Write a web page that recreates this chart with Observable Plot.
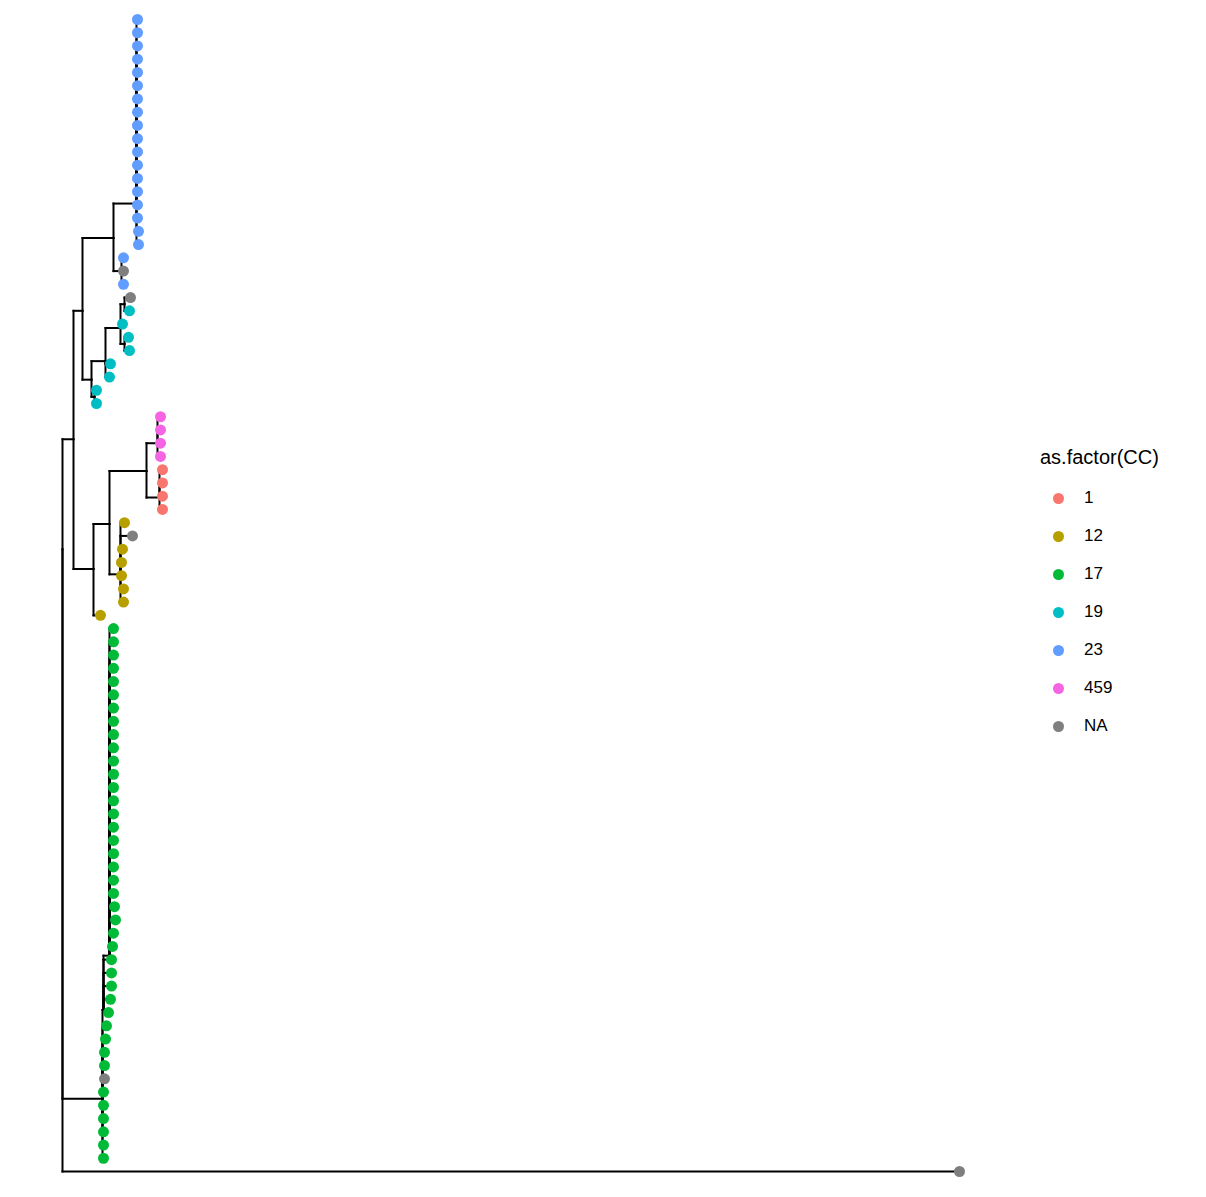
<!DOCTYPE html>
<html>
<head>
<meta charset="utf-8">
<script src="https://cdn.jsdelivr.net/npm/d3@7"></script>
<script src="https://cdn.jsdelivr.net/npm/@observablehq/plot@0.6"></script>
<style>
  body { margin: 0; background: #fff; font-family: "Liberation Sans", Arial, sans-serif; }
  #wrap { position: relative; width: 1206px; height: 1197px; }
  #legend { position: absolute; left: 1040px; top: 446px; color: #000; }
  #legend .title { font-size: 20px; margin-bottom: 10px; }
  #legend .item { display: flex; align-items: center; height: 38px; font-size: 17px; }
  #legend .sw { width: 11px; height: 11px; border-radius: 50%; margin: 0 20px 0 13px; }
</style>
</head>
<body>
<div id="wrap"><div id="tree"></div><div id="legend"></div></div>
<script>
// internal nodes: id, parent, depth, row (y in tip rows)
const nodeId     = ["root","B","C","E","G","H","F","I","J","K","L","M","D","N","O","P","Q","R","S","T","U"];
const nodeParent = [null,"root","B","C","E","E","C","F","F","I","K","K","B","D","N","N","O","O","root","S","T"];
const nodeDepth  = [0,11,20,51,74,59,29,43,32,58,62,62,31,47,84,58,95,97,40,41,47];
const nodeRow    = [40,31.7,22.0,16.5,13.9,19.0,27.2,25.8,28.5,23.3,21.5,24.5,41.5,38.1,34.1,41.9,32.0,36.1,81.5,74.8,70.7];

// tips, top to bottom
const tipCC = [
  ...Array(18).fill("23"), "23","NA","23",
  "NA","19","19","19","19","19","19","19","19",
  "459","459","459","459","1","1","1","1",
  "12","NA","12","12","12","12","12","12",
  ...Array(34).fill("17"), "NA", ...Array(6).fill("17"),
  "NA"
];
const tipDepth = [
  75,75,75,75,75,75,75,75,75,75,75,75,75,75,75,75,76,76,
  61,61,61,68,67,60,66,67,48,47,34,34,
  98,98,98,98,100,100,100,100,
  62,70,60,59,59,61,61,38,
  51,51,51,51,51,51,51,51,51,51,51,51,51,51,51,51,51,51,51,51,51,52,53,51,50,
  49,49,49,48,46,44,43,42,42,42,41,41,41,41,41,41,
  897
];
const tipParent = [
  ...Array(18).fill("G"), "H","H","H","L","L","K","M","M","I","I","J","J",
  "Q","Q","Q","Q","R","R","R","R",
  "P","P","P","P","P","P","P","D",
  ...Array(25).fill("U"), ...Array(5).fill("T"), ...Array(11).fill("S"),
  "root"
];

const ccLevels = ["1","12","17","19","23","459","NA"];
const ccColors = ["#F8766D","#B79F00","#00BA38","#00BFC4","#619CFF","#F564E3","#7F7F7F"];

const nodes = new Map(nodeId.map((id, i) => [id, {id, parent: nodeParent[i], x: nodeDepth[i], y: nodeRow[i]}]));
const tips = tipCC.map((cc, i) => ({cc, x: tipDepth[i], y: i, parent: tipParent[i]}));

const edges = [];
for (const n of [...nodes.values(), ...tips]) {
  if (!n.parent) continue;
  const p = nodes.get(n.parent);
  edges.push({x1: p.x, y1: p.y, x2: p.x, y2: n.y}); // vertical
  edges.push({x1: p.x, y1: n.y, x2: n.x, y2: n.y}); // horizontal
}

const chart = Plot.plot({
  width: 1206,
  height: 1197,
  margin: 0,
  x: {domain: [0, 897], range: [62, 959], axis: null},
  y: {domain: [0, 87], range: [19, 1171], axis: null},
  color: {domain: ccLevels, range: ccColors},
  marks: [
    Plot.link(edges, {x1: "x1", y1: "y1", x2: "x2", y2: "y2", stroke: "black", strokeWidth: 2, strokeLinecap: "square"}),
    Plot.dot(tips, {x: "x", y: "y", fill: "cc", r: 5.5})
  ]
});
document.getElementById("tree").append(chart);

const leg = d3.select("#legend");
leg.append("div").attr("class", "title").text("as.factor(CC)");
ccLevels.forEach((l, i) => {
  const it = leg.append("div").attr("class", "item");
  it.append("div").attr("class", "sw").style("background", ccColors[i]);
  it.append("span").text(l);
});
</script>
</body>
</html>
